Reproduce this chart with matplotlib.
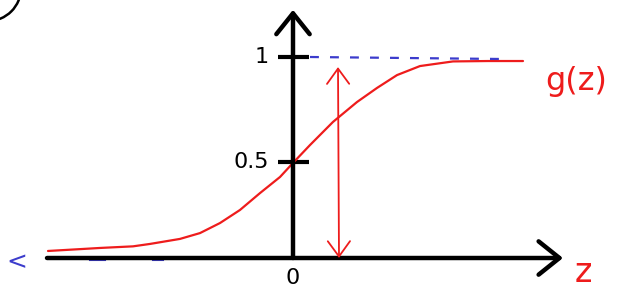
import matplotlib.pyplot as plt
from matplotlib.patches import Arc

# sigmoid sketch, values
z_curve = [-4.9, -4.2, -3.86, -3.2, -2.86, -2.26, -1.86, -1.46, -1.06, -0.66,
           -0.26, 0.0, 0.34, 0.8, 1.28, 1.68, 2.08, 2.54, 3.2, 3.9, 4.6]
g_curve = [0.035, 0.045, 0.05, 0.058, 0.07, 0.095, 0.124, 0.174, 0.239, 0.323,
           0.403, 0.473, 0.562, 0.677, 0.776, 0.846, 0.91, 0.955, 0.978, 0.98, 0.98]

# blue dashed asymptote at g = 1
z_top_dash = [0.34, 4.2]
g_top_dash = [1.0, 0.99]

# blue marks at the bottom left
bottom_dash_z = [[-4.06, -3.76], [-2.8, -2.6]]
bottom_dash_g = -0.012

tick_pos = [0.48, 1.0]
tick_labels = ['0.5', '1']

arrow_z = 0.9
arrow_g_top = 0.95

red = '#ee1c1c'
blue = '#3c3ccc'

fig = plt.figure(figsize=(6.28, 2.97), dpi=100)
ax = fig.add_axes([0, 0, 1, 1])
ax.set_xlim(-5.86, 6.7)
ax.set_ylim(-0.194, 1.2836)
ax.axis('off')

# axes with arrow heads
arrow_kw = dict(arrowstyle='->,head_length=0.5,head_width=0.4', lw=3.2,
                color='black', mutation_scale=30, shrinkA=0, shrinkB=0)
ax.annotate('', xy=(5.4, 0), xytext=(-4.92, 0), arrowprops=arrow_kw)
ax.annotate('', xy=(0, 1.235), xytext=(0, 0), arrowprops=arrow_kw)

# ticks on the vertical axis
for p, lab in zip(tick_pos, tick_labels):
    ax.plot([-0.3, 0.32], [p, p], color='black', lw=3, solid_capstyle='butt')
    ax.text(-0.48, p, lab, ha='right', va='center', fontsize=16)
ax.text(0, -0.1, '0', ha='center', va='center', fontsize=16)

# the sigmoid
ax.plot(z_curve, g_curve, color=red, lw=1.6, solid_capstyle='round',
        solid_joinstyle='round')

# dashed blue guides
ax.plot(z_top_dash, g_top_dash, color=blue, lw=1.6, linestyle=(0, (4, 5)))
for zs in bottom_dash_z:
    ax.plot(zs, [bottom_dash_g, bottom_dash_g], color=blue, lw=1.5)
ax.text(-5.53, -0.02, '<', color=blue, fontsize=18, ha='center', va='center')

# red double arrow
ax.annotate('', xy=(arrow_z, arrow_g_top), xytext=(arrow_z + 0.02, 0.0),
            arrowprops=dict(arrowstyle='<->,head_length=0.55,head_width=0.4',
                            lw=1.3, color=red, mutation_scale=20,
                            shrinkA=0, shrinkB=0))

# labels
ax.text(5.04, 0.88, 'g(z)', color=red, fontsize=23, ha='left', va='center')
ax.text(5.64, -0.07, 'z', color=red, fontsize=24, ha='left', va='center')

# partial circle in the corner
ax.add_patch(Arc((-6.1, 1.343), 1.32, 0.328, color='black', lw=1.8))

fig.savefig('out.png', dpi=100)
